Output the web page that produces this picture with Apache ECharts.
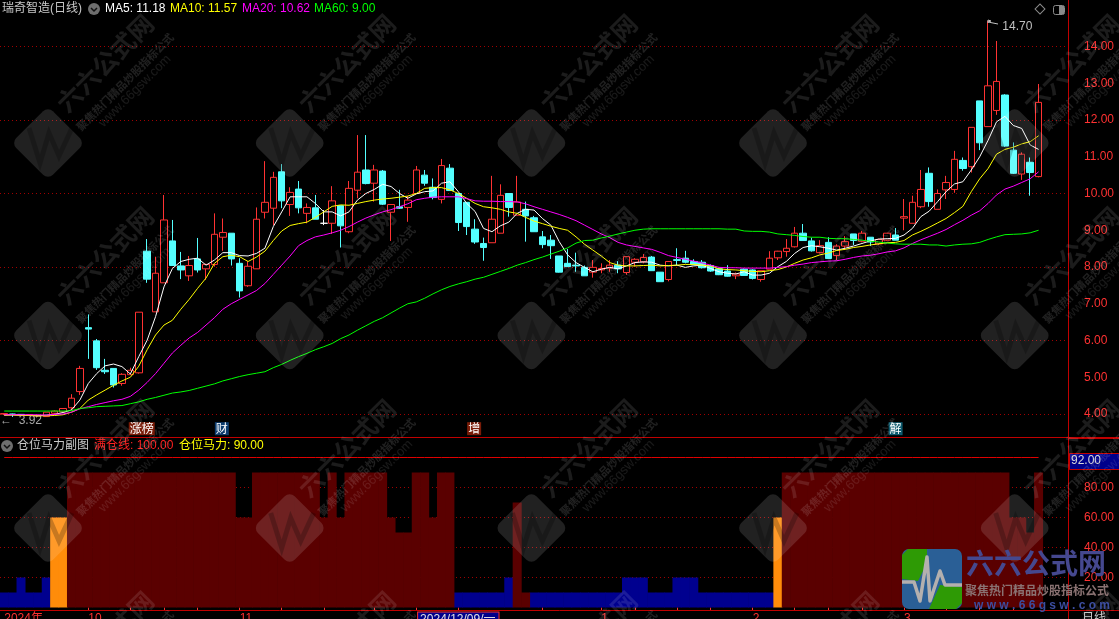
<!DOCTYPE html>
<html><head><meta charset="utf-8">
<style>html,body{margin:0;padding:0;background:#000;overflow:hidden}#c{width:1119px;height:619px}</style>
<script src="https://cdn.jsdelivr.net/npm/echarts@6/dist/echarts.min.js"></script>
</head><body><div id="c"></div>
<script>
// [open, close, low, high]
const candles = [
[4.00,4.01,3.97,4.02],[4.00,3.99,3.92,4.01],[3.99,3.98,3.95,4.00],[3.97,3.98,3.95,4.00],[3.95,3.96,3.94,3.98],
[3.93,4.05,3.93,4.05],[4.02,4.08,4.00,4.10],[4.06,4.15,4.05,4.15],[4.17,4.43,4.11,4.54],[4.61,5.24,4.52,5.31],
[6.35,6.31,5.50,6.71],[5.99,5.26,5.20,6.04],[5.19,5.15,5.09,5.50],[5.24,4.79,4.72,5.24],[4.83,5.08,4.77,5.11],
[5.07,5.19,5.06,5.26],[5.12,6.77,5.10,6.77],[8.43,7.67,7.57,8.76],[6.78,7.83,6.78,8.28],[7.57,9.28,7.57,9.96],
[8.71,8.04,8.04,9.28],[8.03,7.92,7.67,8.41],[7.76,8.04,7.62,8.30],[8.22,7.92,7.85,8.79],[7.95,8.07,7.65,8.09],
[8.07,8.89,8.01,9.46],[8.81,8.94,8.44,9.32],[8.92,8.22,8.04,8.92],[8.10,7.35,7.17,8.24],[7.49,8.02,7.46,8.16],
[7.95,9.30,7.95,9.62],[9.49,9.76,9.32,10.88],[9.60,10.44,9.14,10.59],[10.59,9.80,9.60,10.80],[9.70,10.03,9.39,10.17],
[10.12,9.61,9.46,10.34],[9.46,9.62,9.19,9.73],[9.61,9.30,9.30,9.96],[9.19,9.19,9.14,9.55],[9.19,9.80,8.90,10.20],
[9.67,9.12,8.53,9.67],[8.96,10.14,8.92,10.34],[10.09,10.58,9.87,11.59],[10.64,10.27,10.25,11.59],[10.28,10.64,9.78,10.78],
[10.61,9.71,9.69,10.64],[9.49,9.70,8.71,9.70],[9.64,9.60,9.58,10.10],[9.62,9.82,9.23,9.93],[10.00,10.64,10.00,10.75],
[10.50,10.28,10.21,10.64],[10.17,9.89,9.84,10.41],[9.84,10.76,9.73,10.94],[10.69,10.08,10.08,10.80],[10.00,9.21,8.98,10.00],
[9.76,9.10,8.87,9.76],[9.03,8.68,8.63,9.30],[8.64,8.53,8.17,8.80],[8.66,9.30,8.66,10.48],[8.92,9.95,8.92,10.25],
[10.00,9.62,9.37,10.00],[9.41,9.77,9.41,10.48],[9.57,9.39,8.69,9.78],[9.34,8.96,8.96,9.39],[8.82,8.61,8.51,8.98],
[8.73,8.58,8.22,8.87],[8.30,7.86,7.85,8.30],[8.10,8.01,8.01,8.49],[8.05,8.03,7.87,8.39],[7.99,7.76,7.76,8.04],
[7.86,7.99,7.71,8.19],[7.92,7.96,7.83,8.10],[7.97,8.05,7.87,8.19],[8.05,7.95,7.83,8.16],[7.85,8.28,7.79,8.28],
[8.13,8.21,8.01,8.24],[8.14,8.26,8.10,8.35],[8.27,7.90,7.90,8.30],[7.86,7.60,7.60,7.86],[7.66,8.15,7.61,8.15],
[8.20,8.18,8.05,8.51],[8.24,8.13,8.10,8.44],[8.15,8.06,8.06,8.21],[8.13,7.98,7.96,8.19],[8.04,7.89,7.87,8.07],
[7.95,7.79,7.78,7.98],[7.89,7.75,7.74,8.05],[7.76,7.81,7.67,7.85],[7.94,7.77,7.77,7.96],[7.92,7.69,7.66,7.94],
[7.66,7.90,7.60,7.90],[7.94,8.24,7.94,8.43],[8.25,8.43,8.19,8.44],[8.42,8.51,8.28,8.76],[8.55,8.92,8.53,9.09],
[8.92,8.72,8.72,9.17],[8.71,8.44,8.42,8.80],[8.39,8.58,8.37,8.73],[8.67,8.23,8.23,8.81],[8.31,8.57,8.19,8.62],
[8.57,8.69,8.51,8.84],[8.90,8.72,8.60,8.90],[8.70,8.92,8.67,8.98],[8.81,8.68,8.57,8.81],[8.63,8.75,8.60,8.77],
[8.73,8.92,8.71,8.92],[8.87,8.73,8.73,9.06],[9.33,9.37,9.00,9.85],[9.19,9.76,9.19,9.94],[9.64,10.11,9.60,10.64],
[10.55,9.78,9.64,10.71],[9.57,10.00,9.57,10.11],[10.10,10.30,9.85,10.48],[10.11,10.93,10.02,11.16],[10.90,10.68,10.62,10.98],
[10.73,11.80,10.57,11.80],[12.52,11.38,11.18,12.52],[11.82,12.93,11.82,14.70],[12.26,13.05,12.14,14.15],[12.68,11.29,11.27,12.70],
[11.18,10.55,10.53,11.39],[10.53,11.07,10.37,11.12],[10.85,10.57,9.94,10.98],[10.46,12.48,10.44,12.98]
];
const ma5 = [3.97,3.98,3.97,3.96,3.95,3.97,3.99,4.04,4.11,4.38,4.83,5.10,5.31,5.36,5.29,5.09,5.56,6.01,6.65,7.46,
7.96,8.15,8.21,8.24,8.05,8.19,8.39,8.39,8.31,8.30,8.37,8.51,9.10,9.50,9.91,9.91,9.91,9.73,9.50,9.50,
9.39,9.50,9.82,10.00,10.11,10.25,10.19,10.00,9.87,9.99,10.05,10.07,10.28,10.32,10.05,9.73,9.51,9.05,8.96,9.12,
9.22,9.46,9.57,9.55,9.32,9.14,8.69,8.33,8.12,7.99,7.87,7.94,7.99,7.95,8.03,8.12,8.14,8.13,8.05,8.03,
8.05,7.99,8.03,8.05,7.96,7.87,7.83,7.81,7.87,7.78,7.78,7.83,8.01,8.15,8.37,8.53,8.58,8.55,8.51,8.46,
8.51,8.57,8.64,8.71,8.76,8.77,8.78,8.87,9.05,9.37,9.52,9.78,10.05,10.26,10.32,10.64,11.00,11.45,11.95,12.10,
11.85,11.77,11.32,11.20];
const ma10 = [3.97,3.97,3.96,3.96,3.95,3.95,3.96,3.98,4.05,4.15,4.38,4.52,4.65,4.78,4.90,5.00,5.30,5.75,6.15,6.42,
6.55,6.85,7.12,7.42,7.70,8.10,8.28,8.32,8.28,8.15,8.27,8.43,8.72,8.98,9.13,9.18,9.22,9.35,9.50,9.65,
9.69,9.68,9.73,9.78,9.82,9.85,9.87,9.90,9.93,10.00,10.14,10.16,10.16,10.10,10.00,9.87,9.73,9.64,9.61,9.57,
9.50,9.46,9.35,9.25,9.18,9.11,9.05,9.00,8.82,8.62,8.46,8.30,8.12,8.05,8.03,8.03,8.04,8.05,8.03,8.04,
8.05,8.07,8.07,8.05,8.03,7.95,7.93,7.92,7.90,7.88,7.87,7.90,7.93,8.00,8.10,8.19,8.25,8.33,8.38,8.45,
8.48,8.53,8.56,8.60,8.63,8.66,8.67,8.72,8.87,8.97,9.08,9.20,9.32,9.48,9.65,10.05,10.40,10.68,11.07,11.20,
11.26,11.35,11.41,11.57];
const ma20 = [3.98,3.98,3.98,3.98,3.98,3.97,3.99,4.00,4.05,4.14,4.20,4.26,4.31,4.36,4.40,4.48,4.65,4.86,5.10,5.38,
5.66,5.87,6.07,6.22,6.42,6.62,6.85,7.00,7.12,7.24,7.36,7.55,7.80,8.05,8.30,8.58,8.72,8.82,8.87,8.93,
9.00,9.10,9.22,9.33,9.42,9.50,9.56,9.64,9.72,9.83,9.87,9.90,9.91,9.91,9.91,9.86,9.80,9.79,9.79,9.78,
9.78,9.77,9.72,9.64,9.57,9.50,9.43,9.35,9.26,9.14,9.02,8.90,8.80,8.67,8.60,8.56,8.52,8.48,8.40,8.31,
8.26,8.21,8.16,8.11,8.05,7.99,7.98,7.98,7.97,7.97,7.97,7.97,7.99,8.01,8.05,8.08,8.12,8.14,8.16,8.17,
8.21,8.26,8.30,8.32,8.36,8.41,8.44,8.52,8.64,8.74,8.83,8.92,9.02,9.15,9.27,9.41,9.53,9.73,9.96,10.12,
10.20,10.30,10.40,10.59];
const ma60 = [4.08,4.08,4.08,4.08,4.08,4.08,4.08,4.08,4.09,4.15,4.17,4.20,4.21,4.22,4.23,4.28,4.33,4.40,4.45,4.51,
4.57,4.60,4.64,4.70,4.76,4.82,4.90,4.96,5.02,5.07,5.11,5.15,5.26,5.35,5.46,5.56,5.65,5.75,5.83,5.92,
6.05,6.15,6.28,6.40,6.52,6.62,6.75,6.88,7.00,7.05,7.15,7.27,7.38,7.47,7.54,7.60,7.67,7.72,7.80,7.88,
7.96,8.05,8.12,8.20,8.27,8.35,8.43,8.52,8.65,8.72,8.73,8.79,8.84,8.90,8.95,9.00,9.03,9.04,9.04,9.04,
9.04,9.04,9.04,9.04,9.04,9.04,9.03,9.03,8.98,8.97,8.97,8.95,8.90,8.88,8.86,8.83,8.81,8.81,8.78,8.77,
8.77,8.75,8.73,8.70,8.68,8.65,8.63,8.62,8.62,8.62,8.60,8.60,8.57,8.60,8.62,8.63,8.67,8.75,8.82,8.88,
8.89,8.90,8.93,9.00];
// position indicator, one per session
const subLevels = [10,10,20,10,10,20,60,60,90,90,90,90,90,90,90,90,90,90,90,90,90,90,90,90,90,90,90,90,60,60,
90,90,90,90,90,90,90,90,60,90,60,90,90,90,90,90,60,50,50,90,90,60,90,90,10,10,10,10,10,10,
20,70,10,10,10,10,10,10,10,10,10,10,10,10,20,20,20,10,10,10,20,20,20,10,10,10,10,10,10,10,
10,10,60,90,90,90,90,90,90,90,90,90,90,90,90,90,90,90,90,90,90,90,90,90,90,90,90,90,90,90,
60,60,50,90];
const subZones = 'bbbbbboo'+'r'.repeat(46)+'bbbbbbb'+'rr'+'b'.repeat(29)+'o'+'r'.repeat(31);
const fullLine = new Array(124).fill(100);
const mainGridLevels = [4,6,8,10,12,14];
const subGridLevels = [20,40,60,80];
const slotCount = 127;
const tickAt = [10,15,19,23,28,33,38,44,49,54,64,71,75,80,84,89,94,98,102,107,112,116,120];
const dateText = {0:'2024年',10:'10',28:'11',49:'12',54:'2024/12/09/一',71:'1',89:'2',107:'3'};
const maLegend = [['MA5: 11.18',105,'#ffffff'],['MA10: 11.57',170,'#ffff00'],['MA20: 10.62',242,'#ff00ff'],['MA60: 9.00',314,'#00ff00']];
const subLegend = [['满仓线: 100.00',94,'#ff2020'],['仓位马力: 90.00',179,'#ffff00']];
const signals = [['涨榜',16,'#7a1c08',3],['财',26,'#0c3c6e',-1],['增',56,'#7a1c08',-1],['解',106,'#0c5a6e',0]];

const FONT = '"Liberation Sans","Noto Sans CJK SC",sans-serif';
const RED = '#ff3232', FRAME = '#c00000', DOT = '#a00000';
const cats = Array.from({length:slotCount},(_,i)=>{
  const t = dateText[i]||'';
  if(i===54) return {value:t,textStyle:{color:'#e0e0e0',backgroundColor:'#00008b',borderColor:RED,borderWidth:1,padding:[1,3,1,2]}};
  return t;
});
function txt(s,x,y,fill,size,extra){return {type:'text',silent:true,z:60,x,y,style:Object.assign({text:s,x:0,y:0,fill,font:(size||12)+'px '+FONT,textVerticalAlign:'middle'},extra||{})};}
function hline(x1,x2,y,c){return {type:'line',silent:true,z:55,shape:{x1,y1:y,x2,y2:y},style:{stroke:c,lineWidth:1}};}

const g = [];
g.push({type:'line',silent:true,z:55,shape:{x1:1068.5,y1:0,x2:1068.5,y2:619},style:{stroke:FRAME,lineWidth:1}});
g.push(hline(0,1119,437.5,FRAME)); g.push(hline(1068,1119,438.5,FRAME)); g.push(hline(0,1119,610.5,FRAME));
function chevron(cx,cy){
  g.push({type:'circle',silent:true,z:56,shape:{cx,cy,r:6},style:{fill:'#6e6e6e'}});
  g.push({type:'polyline',silent:true,z:57,shape:{points:[[cx-3,cy-1],[cx,cy+2],[cx+3,cy-1]]},style:{stroke:'#111',lineWidth:1.5,fill:'none'}});
}
g.push(txt('瑞奇智造(日线)',2,9,'#c8c8c8',12)); chevron(94,9);
maLegend.forEach(m=>g.push(txt(m[0],m[1],9,m[2],12)));
g.push(txt('仓位马力副图',17,446,'#c8c8c8',12)); chevron(7,446);
subLegend.forEach(m=>g.push(txt(m[0],m[1],446,m[2],12)));
g.push({type:'rect',silent:true,z:56,x:1040,y:9,rotation:Math.PI/4,shape:{x:-3.5,y:-3.5,width:7,height:7},style:{fill:'none',stroke:'#8a8a8a',lineWidth:1}});
g.push({type:'rect',silent:true,z:56,shape:{x:1053.5,y:5.5,width:11,height:9,r:2},style:{fill:'none',stroke:'#8a8a8a',lineWidth:1}});
g.push({type:'rect',silent:true,z:56,shape:{x:1059,y:6,width:5,height:8},style:{fill:'#8a8a8a'}});
g.push({type:'polyline',silent:true,z:56,shape:{points:[[988,23],[988,20],[991,21],[988,22],[998,24]]},style:{stroke:'#c0c0c0',lineWidth:1,fill:'none'}});
g.push({type:'rect',silent:true,z:56,shape:{x:1069.5,y:453.5,width:50,height:16},style:{fill:'#00008b',stroke:FRAME,lineWidth:1}});
g.push(txt('92.00',1071,461,'#d8d8d8',12));
g.push(txt('日线',1082,619,'#c8c8c8',12,{textVerticalAlign:'middle'}));
const WM = 'rgba(255,255,255,0.13)';
[143,335.5,528,720].forEach(cy=>{
  [48,289.7,531.4,773,1014.7].forEach(cx=>{
    g.push({type:'rect',silent:true,z:70,x:cx,y:cy,rotation:Math.PI/4,shape:{x:-26,y:-26,width:52,height:52,r:7},style:{fill:WM}});
    g.push({type:'polyline',silent:true,z:71,x:cx,y:cy,shape:{points:[[-19,-15],[-8,20],[1,-10],[11,13],[24,-15]]},style:{stroke:'rgba(0,0,0,0.22)',lineWidth:5,fill:'none'}});
    const rot=Math.PI/4;
    g.push({type:'text',silent:true,z:72,x:cx+57,y:cy-80,rotation:rot,style:{text:'六六公式网',x:0,y:0,textAlign:'center',textVerticalAlign:'middle',fill:'rgba(255,255,255,0.11)',font:'bold 25px "Noto Sans CJK SC"'}});
    g.push({type:'text',silent:true,z:72,x:cx+77,y:cy-61,rotation:rot,style:{text:'聚焦热门精品炒股指标公式',x:0,y:0,textAlign:'center',textVerticalAlign:'middle',fill:'rgba(255,255,255,0.13)',font:'bold 11px "Noto Sans CJK SC"'}});
    g.push({type:'text',silent:true,z:72,x:cx+87,y:cy-52,rotation:rot,style:{text:'www.66gsw.com',x:0,y:0,textAlign:'center',textVerticalAlign:'middle',fill:'rgba(255,255,255,0.10)',font:'13px '+FONT}});
  });
});
const LG={x:902,y:549,s:60};
g.push({type:'rect',silent:true,z:80,shape:{x:LG.x,y:LG.y,width:LG.s,height:LG.s,r:7},style:{fill:'#2a5f96'}});
g.push({type:'polygon',silent:true,z:81,shape:{points:[[LG.x+6,LG.y],[LG.x+25,LG.y],[LG.x+25,LG.y+14],[LG.x+16,LG.y+32],[LG.x,LG.y+30],[LG.x,LG.y+6]]},style:{fill:'#2e9a05'}});
g.push({type:'polygon',silent:true,z:81,shape:{points:[[LG.x+60,LG.y+38],[LG.x+60,LG.y+54],[LG.x+54,LG.y+60],[LG.x+27,LG.y+60],[LG.x+38,LG.y+36]]},style:{fill:'#2e9a05'}});
g.push({type:'polyline',silent:true,z:82,shape:{points:[[LG.x,LG.y+33],[LG.x+12,LG.y+33],[LG.x+18,LG.y+52],[LG.x+25,LG.y+8],[LG.x+28,LG.y+52],[LG.x+38,LG.y+22],[LG.x+43,LG.y+36],[LG.x+60,LG.y+36]]},style:{stroke:'#b4b0ae',lineWidth:3.5,lineJoin:'round',fill:'none'}});
g.push({type:'text',silent:true,z:80,x:966,y:563,style:{text:'六六公式网',x:0,y:0,textVerticalAlign:'middle',fill:'#45488f',font:'bold 28px "Noto Sans CJK SC"'}});
g.push({type:'text',silent:true,z:80,x:965,y:590,style:{text:'聚焦热门精品炒股指标公式',x:0,y:0,textVerticalAlign:'middle',fill:'#8a7272',font:'bold 12px "Noto Sans CJK SC"'}});
g.push({type:'text',silent:true,z:80,x:974,y:606,style:{text:'w w w . 6 6 g s w . c o m',x:0,y:0,textVerticalAlign:'middle',fill:'#3c4ea0',font:'bold 12px '+FONT}});

const maSeries = [['MA5',ma5,'#ffffff'],['MA10',ma10,'#ffff00'],['MA20',ma20,'#ff00ff'],['MA60',ma60,'#00ff00']].map(m=>({
  name:m[0],type:'line',data:m[1],xAxisIndex:0,yAxisIndex:0,showSymbol:false,symbol:'none',z:5,silent:true,
  lineStyle:{color:m[2],width:1}
}));
const subBar=(zone,color,name)=>({name,type:'bar',xAxisIndex:1,yAxisIndex:1,barWidth:9,barGap:'-100%',z:3,silent:true,
  itemStyle:{color},data:subLevels.map((v,i)=>subZones[i]===zone?v:null)});

const chart = echarts.init(document.getElementById('c'),null,{renderer:'canvas'});
chart.setOption({
  backgroundColor:'#000',animation:false,
  grid:[{left:0,width:1068,top:9.75,height:441,outerBoundsMode:'none',containLabel:false},
        {left:0,width:1068,top:457.5,height:150,outerBoundsMode:'none',containLabel:false}],
  xAxis:[
    {type:'category',gridIndex:0,data:cats,show:false,boundaryGap:true},
    {type:'category',gridIndex:1,data:cats,offset:3,boundaryGap:true,
     axisLine:{show:false},
     axisTick:{show:true,alignWithLabel:true,length:3,interval:i=>tickAt.includes(i)||!!dateText[i]&&i!==0,lineStyle:{color:RED}},
     axisLabel:{show:true,interval:0,align:'left',margin:2,color:RED,fontSize:12,fontFamily:FONT,hideOverlap:false},
     splitLine:{show:false}}
  ],
  yAxis:[
    {type:'value',gridIndex:0,position:'right',min:3,max:15,interval:1,
     axisLine:{show:false},axisTick:{show:false},splitLine:{show:false},
     axisLabel:{show:true,margin:16,color:RED,fontSize:12,fontFamily:FONT,formatter:v=>(v===3||v===15)?'':v.toFixed(2)}},
    {type:'value',gridIndex:1,position:'right',min:0,max:100,interval:20,
     axisLine:{show:false},axisTick:{show:false},splitLine:{show:false},
     axisLabel:{show:true,margin:16,color:RED,fontSize:12,fontFamily:FONT,formatter:v=>(v===0||v===100)?'':v.toFixed(2)}}
  ],
  series:[
    {name:'mainGrid',type:'line',xAxisIndex:0,yAxisIndex:0,data:[],z:1,silent:true,
     markLine:{z:1,silent:true,symbol:'none',animation:false,label:{show:false},lineStyle:{color:DOT,type:[1,3],width:1},data:mainGridLevels.map(v=>({yAxis:v}))}},
    {name:'K',type:'candlestick',xAxisIndex:0,yAxisIndex:0,data:candles,barWidth:7,z:3,silent:true,
     itemStyle:{color:'#000',color0:'#54ffff',borderColor:RED,borderColor0:'#54ffff',borderColorDoji:'#ffffff',borderWidth:1},
     markPoint:{silent:true,animation:false,symbol:'circle',symbolSize:0,
       data:signals.map(s=>({coord:[s[1],3.6],label:{show:true,position:'inside',offset:[s[3],0],formatter:s[0],color:'#fff',fontSize:12,fontFamily:'"Noto Sans CJK SC"',backgroundColor:s[2],padding:[0,1],lineHeight:13}}))
        .concat([
          {coord:[120,14.7],label:{show:true,position:'inside',offset:[4,6],formatter:'14.70',color:'#c0c0c0',fontSize:12,fontFamily:FONT}},
          {coord:[2,3.92],label:{show:true,position:'inside',offset:[0,4],formatter:'←  3.92',color:'#a8a8a8',fontSize:12,fontFamily:FONT}}
        ])}},
    ...maSeries,
    {name:'subGrid',type:'line',xAxisIndex:1,yAxisIndex:1,data:[],z:1,silent:true,
     markLine:{z:1,silent:true,symbol:'none',animation:false,label:{show:false},lineStyle:{color:DOT,type:[1,3],width:1},data:subGridLevels.map(v=>({yAxis:v}))}},
    subBar('b','#00008f','低位'),subBar('o','#ff8c0a','启动'),subBar('r','#5a0000','持仓'),
    {name:'满仓线',type:'line',xAxisIndex:1,yAxisIndex:1,data:fullLine,showSymbol:false,symbol:'none',z:5,silent:true,lineStyle:{color:'#e00000',width:1}}
  ],
  graphic:g
});
</script></body></html>
